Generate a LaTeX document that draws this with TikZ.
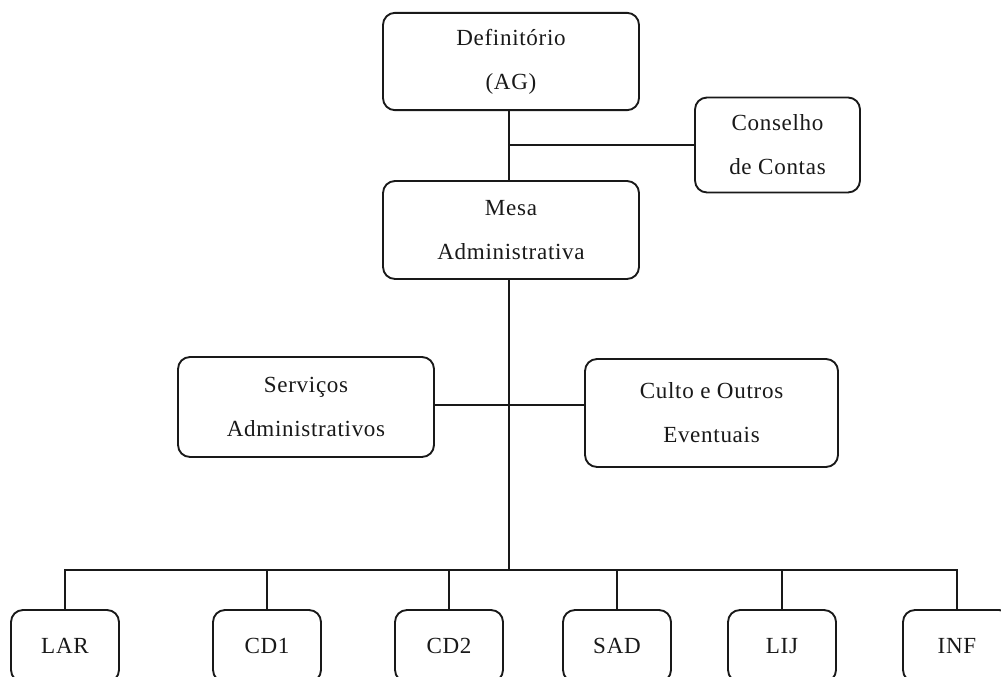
\documentclass[tikz,border=0pt]{standalone}
\usepackage{fontspec}
\setmainfont{Liberation Serif}[LetterSpace=3]
\begin{document}
\begin{tikzpicture}[x=0.75pt,y=-0.75pt,
  every node/.style={inner sep=0pt,outer sep=0pt},
  box/.style={draw=black!90,line width=1.4pt,rounded corners=9pt,align=center,
    text=black!90,font=\fontsize{17.3}{33}\selectfont},
  bigbox/.style={box,minimum width=192pt,minimum height=73pt},
  leaf/.style={box,minimum width=81pt,minimum height=54pt},
  link/.style={draw=black!90,line width=1.5pt}]
\useasboundingbox (0,0) rectangle (1001,677);
\clip (0,0) rectangle (1001,677);

% upper levels
\node[bigbox] (def) at (511,61.5) {Definitório\\(AG)};
\node[box,minimum width=123.75pt,minimum height=71.25pt] (con) at (777.5,145) {Conselho\\de Contas};
\node[bigbox,minimum height=73.5pt] (mesa) at (511,230) {Mesa\\Administrativa};

% staff units
\node[bigbox,minimum height=75pt] (serv) at (306,407) {Serviços\\Administrativos};
\node[box,minimum width=189.75pt,minimum height=81pt] (culto) at (711.5,413) {Culto e Outros\\Eventuais};

% operating units
\node[leaf] (lar) at (65,646) {LAR};
\node[leaf] (cd1) at (267,646) {CD1};
\node[leaf] (cd2) at (449,646) {CD2};
\node[leaf] (sad) at (617,646) {SAD};
\node[leaf] (lij) at (782,646) {LIJ};
\node[leaf] (inf) at (957,646) {INF};

\coordinate (trunk) at (509,0);
\coordinate (hub) at (509,405);
\coordinate (bus) at (509,570);

% connectors
\draw[link] (def.south -| trunk) -- (mesa.north -| trunk);
\draw[link] (con.west) -- (con.west -| trunk);
\draw[link] (mesa.south -| trunk) -- (bus);
\draw[link] (hub -| serv.east) -- (hub -| culto.west);
\draw[link] (lar.north) |- (bus) -| (inf.north);
\foreach \n in {cd1,cd2,sad,lij}
  \draw[link] (\n.north) -- (\n.north |- bus);
\end{tikzpicture}
\end{document}
